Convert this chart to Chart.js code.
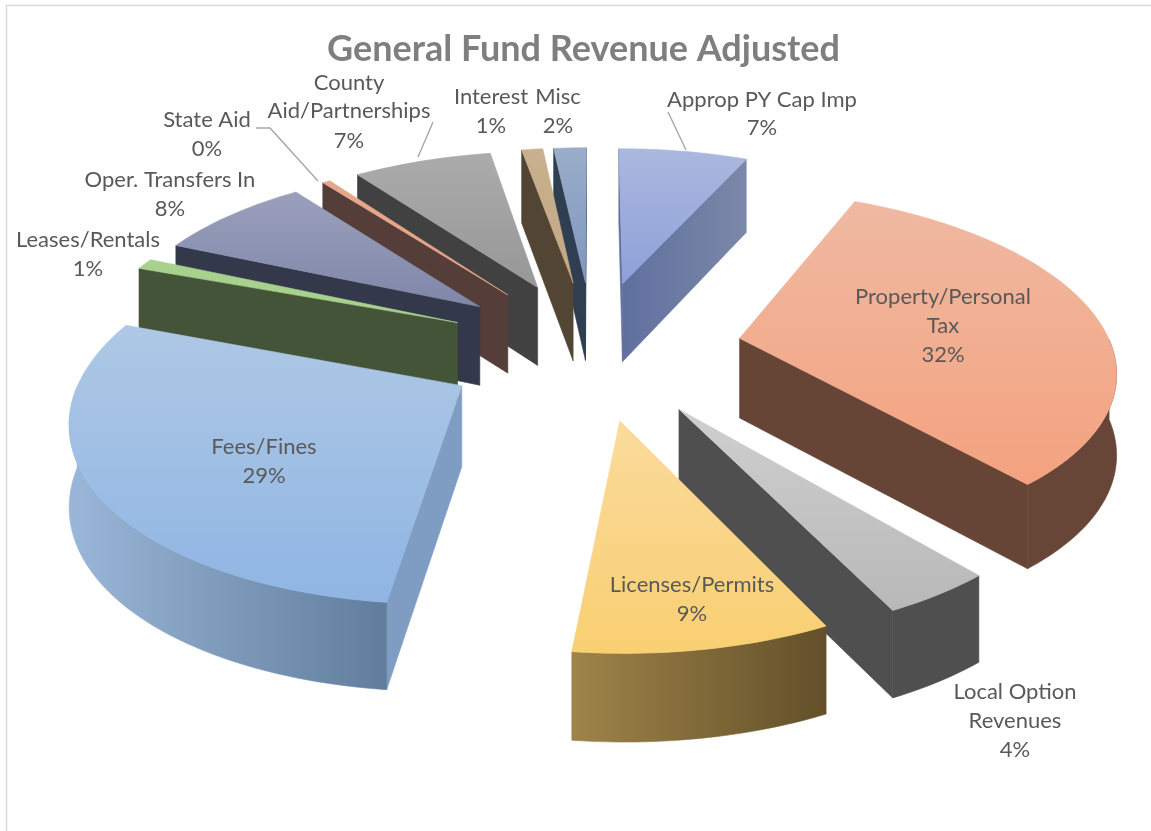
<!DOCTYPE html>
<html><head><meta charset="utf-8">
<style>html,body{margin:0;padding:0;background:#fff}canvas{display:block}</style>
<script src="https://cdn.jsdelivr.net/npm/chart.js@4"></script>
</head><body>
<canvas id="c" width="1151" height="831"></canvas>
<script>
const categories=["Approp PY Cap Imp","Property/Personal Tax","Local Option Revenues","Licenses/Permits","Fees/Fines","Leases/Rentals","Oper. Transfers In","State Aid","County Aid/Partnerships","Interest","Misc"];
const values=[6.7,32.1,4.0,9.0,28.8,1.0,8.0,0.4,7.2,1.1,1.7];
const percentLabels=["7%","32%","4%","9%","29%","1%","8%","0%","7%","1%","2%"];
const labelLines=[["Approp PY Cap Imp"],["Property/Personal","Tax"],["Local Option","Revenues"],["Licenses/Permits"],["Fees/Fines"],["Leases/Rentals"],["Oper. Transfers In"],["State Aid"],["County","Aid/Partnerships"],["Interest"],["Misc"]];
const topLight=["#abb8df","#efb9a2","#cfcfcf","#fbdb9c","#aec8e5","#a9d18e","#9aa0bc","#e6a68a","#ababab","#c9b08e","#9aadc9"];
const topDark =["#8da0d8","#f4a27f","#b8b8b8","#f9cf72","#8fb5e3","#a9d18e","#7f86a8","#e6a68a","#979797","#c2a883","#7f97bf"];
const wallLeft =["#5f6f9f","#664537","#4f4f4f","#9e8449","#9ab6d8","#445438","#33384b","#553d39","#444444","#524534","#35435a"];
const wallRight=["#7b88a8","#674637","#4f4f4f","#63502a","#54708f","#445438","#33384b","#553d39","#444444","#524534","#2e3b4e"];
const wallEdge =[null,"#664537","#4f4f4f","#64512b","#7f9dc2","#445438","#33384b","#553d39","#414141","#524534","#303e52"];
const labelPlaces=[[[762,99],[762,127]],[[943,296],[943,325],[943,354]],[[1015,691],[1015,720],[1015,749]],[[692,584],[692,613]],[[264,446],[264,475]],[[88,239],[88,268]],[[170,179],[170,208]],[[207,119],[207,148]],[[349,82],[349,110],[349,140]],[[491,96],[491,125]],[[558,96],[558,125]]];
const leaderLines=[[[668,112],[686,150]],[[433,122],[418,157]],[[256,128],[270,128],[318,181]]];

const view={cx:593,cy:348,A:372,B:173,H:80,p:0.15,pd:0.07};
function project(u,v,z){const w=1-view.p*v;return [view.cx+view.A*u/w,view.cy+view.B*v/w+view.H*z/(1-view.pd*v)];}
function poly(ctx,pts){ctx.beginPath();pts.forEach((q,i)=>i?ctx.lineTo(q[0],q[1]):ctx.moveTo(q[0],q[1]));ctx.closePath();}

const pie3d={id:'pie3d',
 beforeDraw(chart){const ctx=chart.ctx;ctx.save();ctx.strokeStyle='#d9d9d9';ctx.lineWidth=1.5;ctx.beginPath();ctx.moveTo(6.5,831);ctx.lineTo(6.5,5.5);ctx.lineTo(1151,5.5);ctx.stroke();ctx.restore();},
 beforeDatasetsDraw(chart){
  const ctx=chart.ctx,meta=chart.getDatasetMeta(0);
  const items=meta.data.map((arc,i)=>{
    const p=arc.getProps(['startAngle','endAngle','outerRadius']);
    const R=p.outerRadius,o=arc.options.offset/R,mid=(p.startAngle+p.endAngle)/2;
    const ox=Math.cos(mid)*o,oy=Math.sin(mid)*o;
    const n=Math.max(2,Math.ceil((p.endAngle-p.startAngle)/0.02));
    const rim=[];for(let k=0;k<=n;k++){const a=p.startAngle+(p.endAngle-p.startAngle)*k/n;rim.push([ox+Math.cos(a),oy+Math.sin(a),Math.sin(a)]);}
    return {i,oy:oy+Math.sin(mid),tip:[ox,oy],rim};
  }).sort((a,b)=>a.oy-b.oy);
  items.forEach(s=>{
    const top=s.rim.map(q=>project(q[0],q[1],0)),bot=s.rim.map(q=>project(q[0],q[1],1));
    const t0=project(s.tip[0],s.tip[1],0),t1=project(s.tip[0],s.tip[1],1);
    const all=top.concat([t0]);
    const xs=all.map(q=>q[0]),ys=all.map(q=>q[1]);
    const minX=Math.min(...xs),maxX=Math.max(...xs),minY=Math.min(...ys),maxY=Math.max(...ys);
    const fill=(pts,style)=>{poly(ctx,pts);ctx.fillStyle=style;ctx.strokeStyle=style;ctx.lineWidth=0.6;ctx.fill();ctx.stroke();};
    const midPt=top[Math.floor(top.length/2)];
    const faces=P=>{const ex=P[0]-t0[0],ey=P[1]-t0[1];return Math.sign(ex*1)!==Math.sign(ex*(midPt[1]-t0[1])-ey*(midPt[0]-t0[0]));};
    const g=ctx.createLinearGradient(minX,0,maxX,0);g.addColorStop(0,wallLeft[s.i]);g.addColorStop(1,wallRight[s.i]);
    [[top[0],bot[0]],[top[top.length-1],bot[bot.length-1]]].forEach(e=>{if(faces(e[0]))fill([t0,e[0],e[1],t1],wallEdge[s.i]||g);});
    const front=s.rim.map((q,k)=>q[2]>0?k:-1).filter(k=>k>=0);
    if(front.length>1){const ft=front.map(k=>top[k]),fb=front.map(k=>bot[k]);fill(ft.concat(fb.reverse()),g);}
    const f=ctx.createLinearGradient(0,minY,0,maxY);f.addColorStop(0,topLight[s.i]);f.addColorStop(1,topDark[s.i]);
    fill([t0].concat(top),f);
  });
  return false;
 },
 afterDraw(chart){
  const ctx=chart.ctx;ctx.save();
  ctx.strokeStyle='#a6a6a6';ctx.lineWidth=1.4;
  leaderLines.forEach(l=>{ctx.beginPath();l.forEach((q,i)=>i?ctx.lineTo(q[0],q[1]):ctx.moveTo(q[0],q[1]));ctx.stroke();});
  ctx.fillStyle='#595959';ctx.font='22px Lato';ctx.textAlign='center';ctx.textBaseline='middle';
  labelLines.forEach((lines,i)=>{
    const txt=lines.concat([percentLabels[i]]);
    txt.forEach((t,j)=>ctx.fillText(t,labelPlaces[i][j][0],labelPlaces[i][j][1]+1));
  });
  ctx.restore();
 }};

new Chart(document.getElementById('c'),{type:'pie',
 data:{labels:categories,datasets:[{data:values,backgroundColor:topDark,borderWidth:0,offset:125}]},
 options:{responsive:false,animation:false,rotation:0,
  layout:{padding:{left:16,right:0,top:0,bottom:12}},
  plugins:{legend:{display:false},tooltip:{enabled:false},
   title:{display:true,text:'General Fund Revenue Adjusted',color:'#7f7f7f',font:{family:'Lato',size:36,weight:'bold'},padding:{top:28,bottom:0}}}},
 plugins:[pie3d]});
</script>
</body></html>
